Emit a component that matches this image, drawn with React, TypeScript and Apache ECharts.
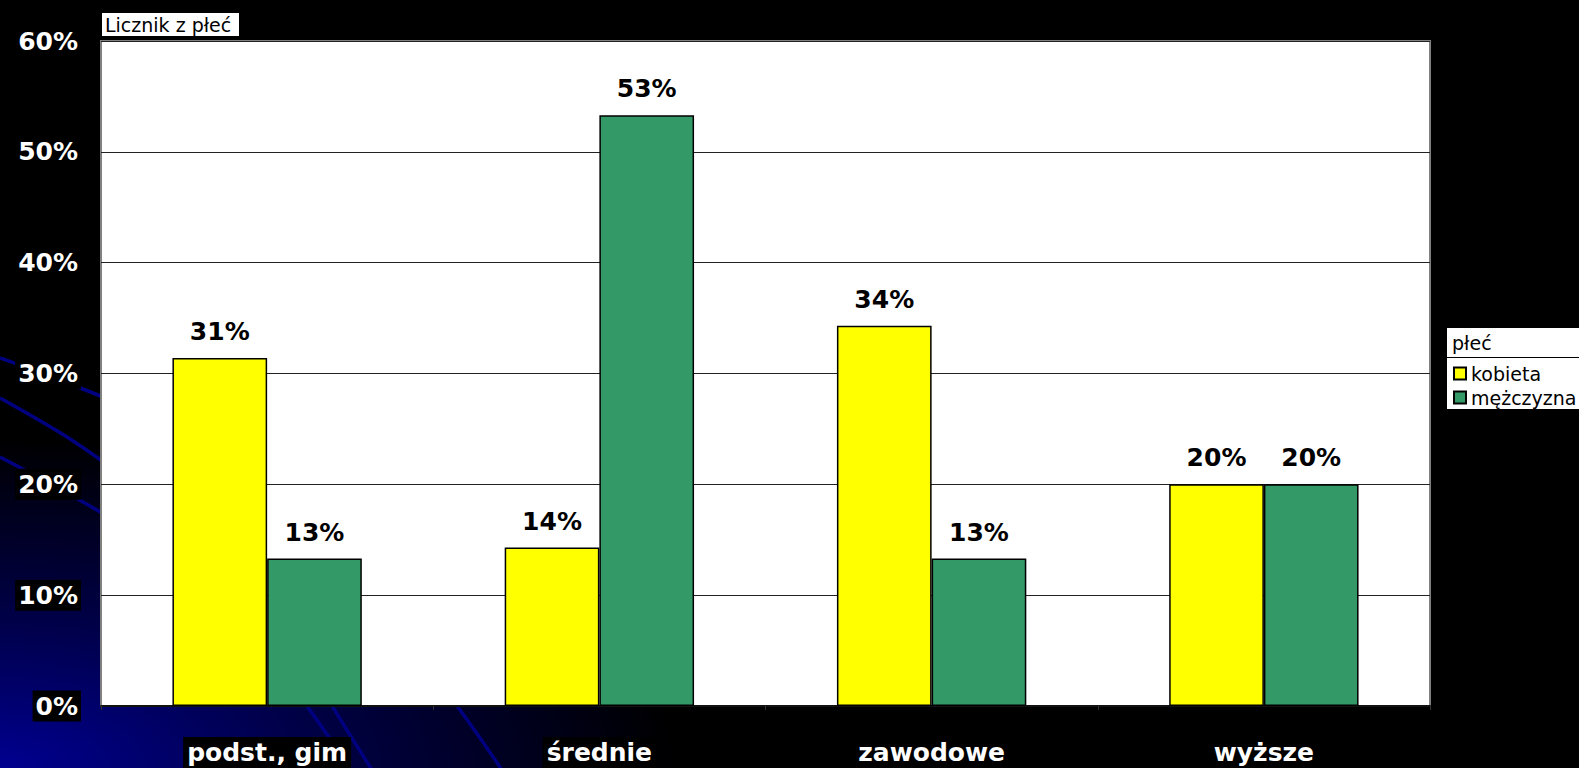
import React, { useEffect, useRef } from "react";
import * as echarts from "echarts";

const categories = ["podst., gim", "średnie", "zawodowe", "wyższe"];
const kobieta = [31.4, 14.3, 34.3, 20.0];
const mezczyzna = [13.3, 53.3, 13.3, 20.0];
const seriesNames = ["kobieta", "mężczyzna"];
const yTicks = { min: 0, max: 60, interval: 10 };
const chartTitle = "Licznik z płeć";
const legendTitle = "płeć";

const W = 1579;
const H = 768;
const FONT = "DejaVu Sans";
const LINE_BLUE = "#000080";

export default function App() {
  const ref = useRef<HTMLDivElement>(null);

  useEffect(() => {
    document.body.style.margin = "0";
    document.body.style.background = "#000";
    if (!ref.current) return;
    const chart = echarts.init(ref.current, null, { renderer: "svg" });

    const bgLine = (points: number[][]) => ({
      type: "polyline",
      z: -9,
      silent: true,
      shape: { points, smooth: 0.3 },
      style: { stroke: LINE_BLUE, lineWidth: 3.5, fill: null },
    });

    const labelStyle = {
      show: true,
      position: "top",
      distance: 14,
      color: "#000",
      fontFamily: FONT,
      fontWeight: "bold",
      fontSize: 25,
      formatter: (p: any) => Math.round(p.value) + "%",
    };

    chart.setOption({
      animation: false,
      backgroundColor: "#000",
      grid: {
        left: 101,
        right: W - 1430,
        top: 41,
        bottom: H - 707,
        show: true,
        backgroundColor: "#fff",
        borderColor: "#808080",
        borderWidth: 2,
        containLabel: false,
      },
      xAxis: {
        type: "category",
        data: categories,
        axisLine: { show: true, lineStyle: { color: "#111", width: 2 } },
        axisTick: { show: true, length: 4, lineStyle: { color: "#333", width: 1 } },
        axisLabel: {
          color: "#fff",
          fontFamily: FONT,
          fontWeight: "bold",
          fontSize: 25,
          margin: 31,
          backgroundColor: "#000",
          padding: [3, 4, 3, 4],
        },
      },
      yAxis: {
        type: "value",
        min: yTicks.min,
        max: yTicks.max,
        interval: yTicks.interval,
        axisLine: { show: false },
        axisTick: { show: false },
        splitLine: { show: true, lineStyle: { color: "#222", width: 1 } },
        axisLabel: {
          color: "#fff",
          fontFamily: FONT,
          fontWeight: "bold",
          fontSize: 25,
          margin: 20,
          formatter: "{value}%",
          backgroundColor: "#000",
          padding: [3, 3, 3, 3],
        },
      },
      legend: {
        orient: "vertical",
        left: 1453,
        top: 364,
        z: 50,
        itemWidth: 12,
        itemHeight: 12,
        itemGap: 5,
        icon: "rect",
        padding: 0,
        itemStyle: { borderColor: "#000", borderWidth: 2 },
        textStyle: { color: "#000", fontFamily: FONT, fontSize: 19, lineHeight: 18 },
        data: seriesNames,
      },
      series: [
        {
          name: seriesNames[0],
          type: "bar",
          data: kobieta,
          barGap: "0%",
          barCategoryGap: "43%",
          itemStyle: { color: "#FFFF00", borderColor: "#000", borderWidth: 1.5 },
          label: labelStyle,
        },
        {
          name: seriesNames[1],
          type: "bar",
          data: mezczyzna,
          barGap: "0%",
          barCategoryGap: "43%",
          itemStyle: { color: "#339966", borderColor: "#000", borderWidth: 1.5 },
          label: labelStyle,
        },
      ],
      graphic: [
        {
          type: "rect",
          z: -10,
          silent: true,
          shape: { x: 0, y: 0, width: W, height: H },
          style: {
            fill: new echarts.graphic.RadialGradient(0, 1, 0.43, [
              { offset: 0, color: "#000090" },
              { offset: 0.45, color: "#000048" },
              { offset: 1, color: "#000000" },
            ]),
          },
        },
        bgLine([[0, 358], [60, 380], [140, 412]]),
        bgLine([[0, 398], [67, 437], [140, 488]]),
        bgLine([[0, 457], [60, 489], [140, 535]]),
        bgLine([[300, 696], [333, 743], [350, 768]]),
        bgLine([[326, 696], [350, 735], [372, 770]]),
        bgLine([[450, 696], [480, 738], [502, 770]]),
        {
          type: "rect",
          z: 1,
          shape: { x: 102, y: 13, width: 137, height: 23 },
          style: { fill: "#fff" },
        },
        {
          type: "text",
          z: 2,
          x: 105,
          y: 24.5,
          style: {
            text: chartTitle,
            fill: "#000",
            font: `19px "${FONT}"`,
            verticalAlign: "middle",
          },
        },
        {
          type: "rect",
          z: 1,
          shape: { x: 1447, y: 328, width: 150, height: 81 },
          style: { fill: "#fff" },
        },
        {
          type: "line",
          z: 2,
          shape: { x1: 1447, y1: 357.5, x2: 1600, y2: 357.5 },
          style: { stroke: "#000", lineWidth: 1 },
        },
        {
          type: "text",
          z: 2,
          x: 1452,
          y: 343,
          style: {
            text: legendTitle,
            fill: "#000",
            font: `19px "${FONT}"`,
            verticalAlign: "middle",
          },
        },
      ],
    });

    return () => chart.dispose();
  }, []);

  return (
    <div
      ref={ref}
      style={{ position: "fixed", left: 0, top: 0, width: W + "px", height: H + "px" }}
    />
  );
}
